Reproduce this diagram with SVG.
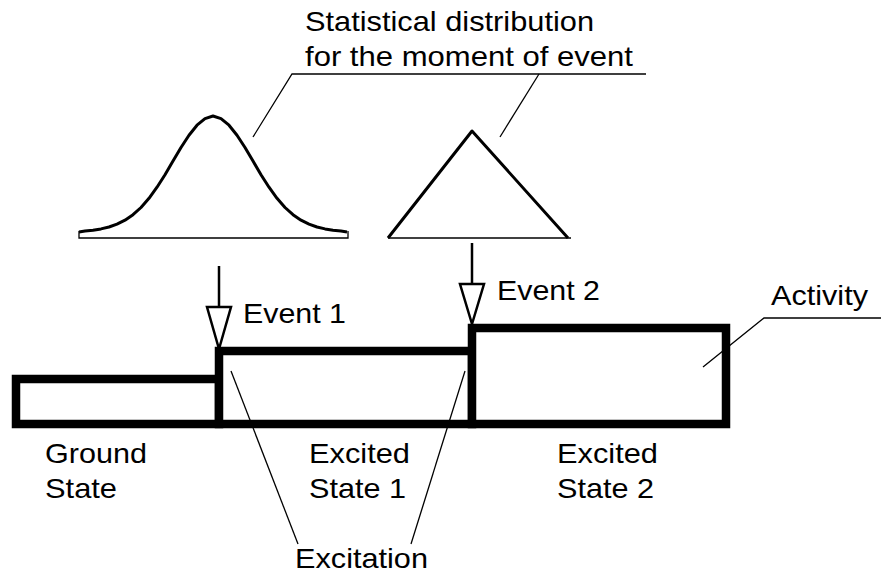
<svg xmlns="http://www.w3.org/2000/svg" width="881" height="581" viewBox="0 0 881 581">
<style>
.t{font-family:"Liberation Sans",Arial,sans-serif;font-size:28px;fill:#000}
.thin{fill:none;stroke:#000;stroke-width:1.3}
.curve{fill:none;stroke:#000;stroke-width:3;stroke-linejoin:round}
.box{fill:#fff;stroke:#000;stroke-width:8.5;stroke-linejoin:miter}
.arr{fill:#fff;stroke:#000;stroke-width:2.5;stroke-linejoin:miter}
</style>
<rect width="881" height="581" fill="#fff"/>
<g id="distribution-label">
<text class="t" x="305" y="31" textLength="289" lengthAdjust="spacingAndGlyphs">Statistical distribution</text>
<text class="t" x="305" y="66" textLength="328" lengthAdjust="spacingAndGlyphs">for the moment of event</text>
</g>
<g id="gaussian">
<polyline class="curve" points="79,232 85,231.1 93,230.2 101,228.9 109,227 117,224.1 125,220.2 133,214.7 141,207.5 149,198.3 157,187.2 165,174.7 173,161.1 181,147.5 189,135.2 197,125.2 205,118.6 213,116 221,118.6 229,125.2 237,135.2 245,147.5 253,161.1 261,174.7 269,187.2 277,198.3 285,207.5 293,214.7 301,220.2 309,224.1 317,227 325,228.9 333,230.2 341,231.1 347,232"/>
<polyline class="thin" points="79,231 79,238 348,238 348,231"/>
</g>
<g id="triangle">
<polyline class="curve" points="388,238 472,131 568,238"/>
<line class="thin" x1="388" y1="238" x2="571" y2="238"/>
</g>
<g id="ground-state">
<rect class="box" x="16" y="379" width="203" height="45"/>
<text class="t" x="45" y="463" textLength="102" lengthAdjust="spacingAndGlyphs">Ground</text>
<text class="t" x="45" y="498" textLength="72" lengthAdjust="spacingAndGlyphs">State</text>
</g>
<g id="excited-state-1">
<rect class="box" x="219" y="351" width="253" height="73"/>
<text class="t" x="309" y="463" textLength="101" lengthAdjust="spacingAndGlyphs">Excited</text>
<text class="t" x="309" y="498" textLength="97" lengthAdjust="spacingAndGlyphs">State 1</text>
</g>
<g id="excited-state-2">
<rect class="box" x="472" y="328" width="254" height="96"/>
<text class="t" x="557" y="463" textLength="101" lengthAdjust="spacingAndGlyphs">Excited</text>
<text class="t" x="557" y="498" textLength="97" lengthAdjust="spacingAndGlyphs">State 2</text>
</g>
<g id="event-1">
<line x1="219" y1="266" x2="219" y2="307" stroke="#000" stroke-width="2.5"/>
<polygon class="arr" points="207,307 231,307 219,349"/>
<text class="t" x="243" y="323" textLength="103" lengthAdjust="spacingAndGlyphs">Event 1</text>
</g>
<g id="event-2">
<line x1="472" y1="243" x2="472" y2="284" stroke="#000" stroke-width="2.5"/>
<polygon class="arr" points="460,284 484,284 472,324"/>
<text class="t" x="497" y="300" textLength="103" lengthAdjust="spacingAndGlyphs">Event 2</text>
</g>
<g id="activity-label">
<text class="t" x="771" y="305" textLength="97" lengthAdjust="spacingAndGlyphs">Activity</text>
</g>
<g id="excitation-label">
<text class="t" x="295" y="568" textLength="133" lengthAdjust="spacingAndGlyphs">Excitation</text>
</g>
<g id="connectors">
<polyline class="thin" points="253,137 292,74 646,74"/>
<line class="thin" x1="539" y1="74" x2="500" y2="137"/>
<polyline class="thin" points="703,367 764,318 881,318"/>
<line class="thin" x1="231" y1="371" x2="298" y2="544"/>
<line class="thin" x1="465" y1="371" x2="411" y2="544"/>
</g>
</svg>
